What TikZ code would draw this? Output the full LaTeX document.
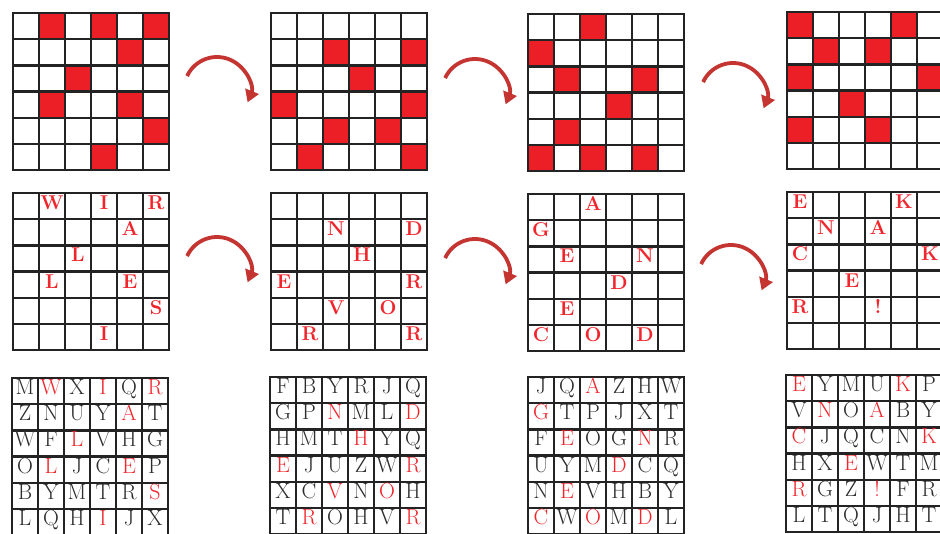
\documentclass[tikz,border=0pt]{standalone}
\usepackage{fontspec}
\usetikzlibrary{arrows.meta}
\definecolor{cellred}{RGB}{236,30,38}
\definecolor{letR}{RGB}{240,38,44}
\definecolor{letB}{RGB}{45,45,45}
\definecolor{arrred}{RGB}{196,52,48}
\definecolor{gridgray}{RGB}{35,35,35}
\newcommand{\cw}{26}
\newcommand{\ch}{26.2}
\newcommand{\gridlines}[2]{%
  \foreach \i in {0,...,6}{%
    \draw[gridln] ({#1+\i*\cw},#2) -- ({#1+\i*\cw},{#2+6*\ch});
    \draw[gridln] (#1,{#2+\i*\ch}) -- ({#1+6*\cw},{#2+\i*\ch});
  }}
\tikzset{
  gridln/.style={draw=gridgray,line width=2.5pt,line cap=rect},
  redcell/.style={fill=cellred},
  hintlet/.style={text=letR,inner sep=0pt,text height=0.683em,text depth=0pt,
    font=\fontsize{20}{20}\selectfont\bfseries},
  plainlet/.style={inner sep=0pt,text height=0.683em,text depth=0pt,
    font=\fontsize{22}{22}\selectfont\addfontfeature{FakeBold=1.2}},
  turn/.style={draw=arrred,line width=3.8pt,-{Triangle[length=12pt,width=14pt]}}
}
\begin{document}
\begin{tikzpicture}[x=1pt,y=-1pt]
\useasboundingbox (0,0) rectangle (940,534);
\clip (0,0) rectangle (940,534);
% ---------- row 1: masks ----------
\foreach \gx/\gy/\cells in {
  13/13/{0/1,0/3,0/5,1/4,2/2,3/1,3/4,4/5,5/3},
  271/13/{1/2,1/5,2/3,3/0,3/5,4/2,4/4,5/1,5/5},
  528/14/{0/2,1/0,2/1,2/4,3/3,4/1,5/0,5/2,5/4},
  787/12/{0/0,0/4,1/1,1/3,2/0,2/5,3/2,4/0,4/3}}{%
  \foreach \r/\c in \cells{%
    \fill[redcell] ({\gx+\c*\cw},{\gy+\r*\ch}) rectangle ({\gx+(\c+1)*\cw},{\gy+(\r+1)*\ch});
  }
  \gridlines{\gx}{\gy}
}
% ---------- row 2: letters through the mask ----------
\foreach \g/\gx/\gy/\cells in {
  1/13/193/{0/1/W,0/3/I,0/5/R,1/4/A,2/2/L,3/1/L,3/4/E,4/5/S,5/3/I},
  2/271/193/{1/2/N,1/5/D,2/3/H,3/0/E,3/5/R,4/2/V,4/4/O,5/1/R,5/5/R},
  3/528/194/{0/2/A,1/0/G,2/1/E,2/4/N,3/3/D,4/1/E,5/0/C,5/2/O,5/4/D},
  4/787/192/{0/0/E,0/4/K,1/1/N,1/3/A,2/0/C,2/5/K,3/2/E,4/0/R,4/3/!}}{%
  \gridlines{\gx}{\gy}
  \foreach \r/\c/\L in \cells{%
    \node[hintlet] (m\g-\r-\c) at ({\gx+(\c+0.5)*\cw},{\gy+(\r+0.5)*\ch}) {\L};
  }
}
% ---------- row 3: full letter squares ----------
\foreach \g/\gx/\gy/\rows in {
  1/12/378/{{B/M,R/W,B/X,R/I,B/Q,R/R},{B/Z,B/N,B/U,B/Y,R/A,B/T},{B/W,B/F,R/L,B/V,B/H,B/G},{B/O,R/L,B/J,B/C,R/E,B/P},{B/B,B/Y,B/M,B/T,B/R,R/S},{B/L,B/Q,B/H,R/I,B/J,B/X}},
  2/270/377/{{B/F,B/B,B/Y,B/R,B/J,B/Q},{B/G,B/P,R/N,B/M,B/L,R/D},{B/H,B/M,B/T,R/H,B/Y,B/Q},{R/E,B/J,B/U,B/Z,B/W,R/R},{B/X,B/C,R/V,B/N,R/O,B/H},{B/T,R/R,B/O,B/H,B/V,R/R}},
  3/528/377/{{B/J,B/Q,R/A,B/Z,B/H,B/W},{R/G,B/T,B/P,B/J,B/X,B/T},{B/F,R/E,B/O,B/G,R/N,B/R},{B/U,B/Y,B/M,R/D,B/C,B/Q},{B/N,R/E,B/V,B/H,B/B,B/Y},{R/C,B/W,R/O,B/M,R/D,B/L}},
  4/786/375/{{R/E,B/Y,B/M,B/U,R/K,B/P},{B/V,R/N,B/O,R/A,B/B,B/Y},{R/C,B/J,B/Q,B/C,B/N,R/K},{B/H,B/X,R/E,B/W,B/T,B/M},{R/R,B/G,B/Z,R/!,B/F,B/R},{B/L,B/T,B/Q,B/J,B/H,B/T}}}{%
  \gridlines{\gx}{\gy}
  \foreach \row [count=\r from 0] in \rows{%
    \foreach \tc/\L [count=\c from 0] in \row{%
      \node[plainlet,text=let\tc] (t\g-\r-\c) at ({\gx+(\c+0.5)*\cw},{\gy+(\r+0.5)*\ch}) {\L};
    }
  }
}
% ---------- turning arrows ----------
\coordinate (a1) at (217,90);
\coordinate (a2) at (475,92);
\coordinate (a3) at (733,96);
\coordinate (b1) at (217,270);
\coordinate (b2) at (475,272);
\coordinate (b3) at (731,278);
\foreach \p in {a1,a2,a3,b1,b2,b3}{%
  \draw[turn] (\p) ++(-155:33) arc[start angle=-155,end angle=22,radius=33];
}
\end{tikzpicture}
\end{document}
